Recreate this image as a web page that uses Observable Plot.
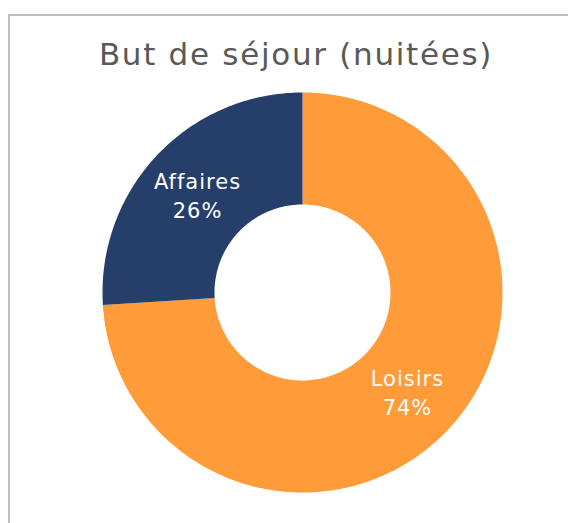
<!DOCTYPE html>
<html>
<head>
<meta charset="utf-8">
<script src="https://cdn.jsdelivr.net/npm/d3@7"></script>
<script src="https://cdn.jsdelivr.net/npm/@observablehq/plot@0.6"></script>
<style>
  html, body { margin: 0; padding: 0; background: #fff; }
  body { width: 568px; height: 523px; position: relative; overflow: hidden; font-family: "DejaVu Sans", sans-serif; }
  #frame { position: absolute; left: 8px; top: 14px; width: 640px; height: 600px; border: 2px solid #bfbfbf; box-sizing: border-box; }
  #title { position: absolute; left: 0; top: 36px; width: 592px; text-align: center; font-size: 31px; line-height: 36px; letter-spacing: 1.7px; color: #595959; font-family: "DejaVu Sans", sans-serif; }
  #chart { position: absolute; left: 0; top: 82px; }
</style>
</head>
<body>
<div id="frame"></div>
<div id="title"></div>
<div id="chart"></div>
<script>
const title = "But de séjour (nuitées)";
const categories = ["Loisirs", "Affaires"];
const shares = [74, 26];
const colors = ["#FF9B38", "#263F6A"];

document.getElementById("title").textContent = title;

const inner = 0.44, outer = 1;
const total = d3.sum(shares);
let start = 0;
const ring = [];
const labels = [];
categories.forEach((cat, i) => {
  const a0 = start / total * 2 * Math.PI;
  const a1 = (start + shares[i]) / total * 2 * Math.PI;
  start += shares[i];
  const n = Math.max(8, Math.round((a1 - a0) / (2 * Math.PI) * 400));
  for (let k = 0; k <= n; k++) {
    const a = a0 + (a1 - a0) * k / n;
    ring.push({cat, x: outer * Math.sin(a), y: outer * Math.cos(a)});
  }
  for (let k = n; k >= 0; k--) {
    const a = a0 + (a1 - a0) * k / n;
    ring.push({cat, x: inner * Math.sin(a), y: inner * Math.cos(a)});
  }
  const am = (a0 + a1) / 2, rm = (inner + outer) / 2;
  labels.push({text: `${cat}\n${shares[i]}%`, x: rm * Math.sin(am), y: rm * Math.cos(am)});
});

const chart = Plot.plot({
  width: 568,
  height: 430,
  marginLeft: 102,
  marginRight: 66,
  marginTop: 10,
  marginBottom: 20,
  style: {letterSpacing: "1px"},
  x: {domain: [-1, 1], axis: null},
  y: {domain: [-1, 1], axis: null},
  color: {domain: categories, range: colors},
  marks: [
    Plot.line(ring, {x: "x", y: "y", z: "cat", fill: "cat", stroke: null, curve: "linear"}),
    Plot.text(labels, {x: "x", y: "y", text: "text", fill: "white", fontSize: 21, lineHeight: 1.4, fontFamily: "DejaVu Sans, sans-serif"})
  ]
});
document.getElementById("chart").appendChild(chart);
</script>
</body>
</html>
